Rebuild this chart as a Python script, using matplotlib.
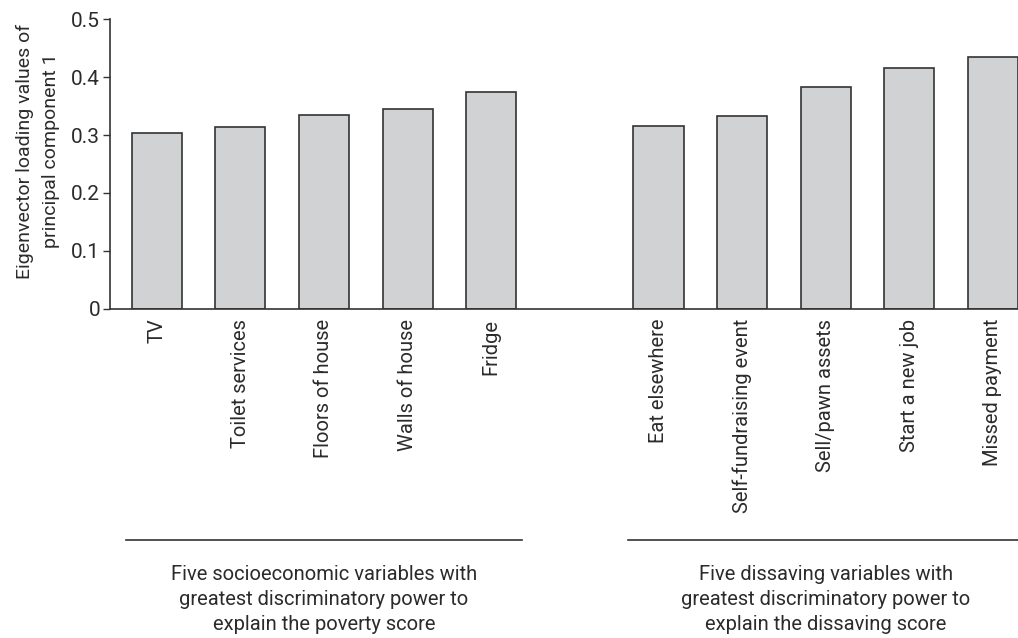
import numpy as np
import matplotlib
matplotlib.use("Agg")
import matplotlib.pyplot as plt
import matplotlib.transforms as mtransforms

plt.rcParams['font.family'] = ['Roboto', 'DejaVu Sans']

# Datos
poverty_labels = ['TV', 'Toilet services', 'Floors of house', 'Walls of house', 'Fridge']
poverty_values = [0.304, 0.314, 0.335, 0.344, 0.374]
dissaving_labels = ['Eat elsewhere', 'Self-fundraising event', 'Sell/pawn assets',
                    'Start a new job', 'Missed payment']
dissaving_values = [0.315, 0.333, 0.383, 0.416, 0.434]
group_titles = ['Five socioeconomic variables with\ngreatest discriminatory power to\nexplain the poverty score',
                'Five dissaving variables with\ngreatest discriminatory power to\nexplain the dissaving score']
yticks = [0, 0.1, 0.2, 0.3, 0.4, 0.5]
ytick_labels = ['0', '0.1', '0.2', '0.3', '0.4', '0.5']

txt = '#2b2b2b'
x1 = np.arange(len(poverty_values))
x2 = np.arange(len(dissaving_values)) + len(poverty_values) + 1

fig = plt.figure(figsize=(10.18, 6.38), dpi=100)
ax = fig.add_axes([0.108, 0.5157, 0.892, 0.4545])

ax.bar(x1, poverty_values, width=0.6, color='#d1d2d4', edgecolor='#333333', linewidth=1.2)
ax.bar(x2, dissaving_values, width=0.6, color='#d1d2d4', edgecolor='#333333', linewidth=1.2)

ax.set_xlim(-0.56, 10.3)
ax.set_ylim(0, 0.5)
ax.set_yticks(yticks)
ax.set_yticklabels(ytick_labels, fontsize=15, color=txt)
ax.set_xticks(np.concatenate([x1, x2]))
ax.set_xticklabels(poverty_labels + dissaving_labels, rotation=90, fontsize=14.5, color=txt, va='top')
ax.tick_params(axis='x', length=0, pad=7)
ax.tick_params(axis='y', length=5, width=1, color='#333333', pad=2)
for s in ['top', 'right']:
    ax.spines[s].set_visible(False)
for s in ['left', 'bottom']:
    ax.spines[s].set_color('#333333')
    ax.spines[s].set_linewidth(1.2)

ax.set_ylabel('Eigenvector loading values of\nprincipal component 1', fontsize=14, color=txt,
              linespacing=1.55)
ax.yaxis.set_label_coords(-0.055, 0.545)

# Lineas y textos de grupo debajo de las etiquetas
trans = mtransforms.blended_transform_factory(ax.transData, fig.transFigure)
for xs, title in [(x1, group_titles[0]), (x2, group_titles[1])]:
    c = xs.mean()
    ax.plot([c - 2.37, c + 2.37], [0.1536, 0.1536], transform=trans, color='#333333',
            linewidth=1.2, clip_on=False)
    ax.text(c, 0.115, title, transform=trans, ha='center', va='top', fontsize=14.5,
            color=txt, linespacing=1.4)

fig.savefig('out.png', dpi=100)
